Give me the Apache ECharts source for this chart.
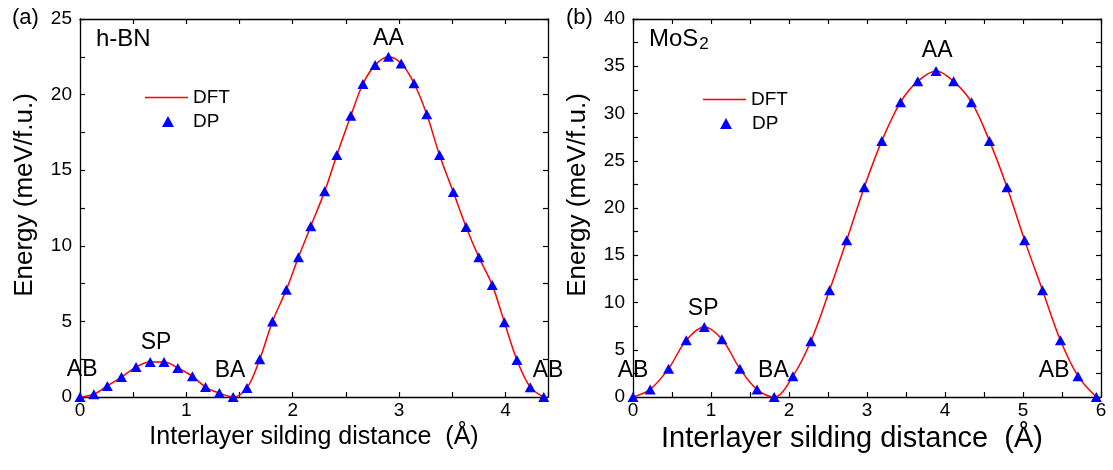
<!DOCTYPE html>
<html>
<head>
<meta charset="utf-8">
<script src="https://cdn.jsdelivr.net/npm/echarts@6/dist/echarts.min.js"></script>
<style>
html,body{margin:0;padding:0;background:#fff;}
#chart{width:1113px;height:470px;}
</style>
</head>
<body>
<div id="chart"></div>
<script>
// ---- Data ----
const hbnX = [0, 0.13, 0.257, 0.39, 0.527, 0.66, 0.79, 0.92, 1.057, 1.18, 1.31, 1.44, 1.57, 1.69, 1.81, 1.94, 2.054, 2.17, 2.30, 2.415, 2.546, 2.66, 2.775, 2.90, 3.02, 3.14, 3.26, 3.38, 3.51, 3.63, 3.75, 3.876, 3.99, 4.108, 4.233, 4.36];
const hbnY = [0, 0.18, 0.73, 1.32, 1.98, 2.31, 2.31, 1.92, 1.37, 0.66, 0.26, 0, 0.6, 2.5, 5.0, 7.1, 9.25, 11.3, 13.6, 16.0, 18.6, 20.7, 21.95, 22.5, 22.05, 20.75, 18.7, 16.0, 13.55, 11.25, 9.25, 7.4, 4.95, 2.45, 0.65, 0];

const mosX = [0, 0.22, 0.456, 0.683, 0.914, 1.14, 1.37, 1.59, 1.81, 2.05, 2.28, 2.52, 2.74, 2.965, 3.19, 3.43, 3.65, 3.885, 4.11, 4.34, 4.57, 4.795, 5.02, 5.25, 5.48, 5.705, 5.94];
const mosY = [0, 0.8, 3.0, 6.0, 7.4, 6.1, 3.0, 0.8, 0, 2.2, 5.9, 11.3, 16.6, 22.2, 27.1, 31.2, 33.4, 34.5, 33.4, 31.2, 27.1, 22.2, 16.6, 11.3, 6.0, 2.2, 0];

// stacking-configuration annotations (data coordinates)
const annoNamesA = ['AB', 'SP', 'BA', 'AA', 'AB'];
const annoXA = [0.02, 0.715, 1.41, 2.90, 4.40];
const annoYA = [1.8, 3.57, 1.72, 23.7, 1.72];
const annoNamesB = ['AB', 'SP', 'BA', 'AA', 'AB'];
const annoXB = [0.0, 0.90, 1.80, 3.90, 5.40];
const annoYB = [2.75, 9.4, 2.75, 36.6, 2.75];

const xTitle = 'Interlayer silding distance  (\u00C5)';
const yTitle = 'Energy (meV/f.u.)';
const legendNames = ['DFT', 'DP'];

// ---- Chart ----
const FONT = '"Liberation Sans", Arial, Helvetica, sans-serif';
const zip = (xs, ys) => xs.map((x, i) => [x, ys[i]]);
const anno = (names, xs, ys) => names.map((n, i) => ({ name: n, value: [xs[i], ys[i]] }));

const axisLine = { show: true, onZero: false, lineStyle: { color: '#000', width: 1.3 } };
const tick = { show: true, inside: true, length: 5, lineStyle: { color: '#000', width: 1.2 } };

function xAxes(gi, max, name, nameSize, namePad) {
  return [
    {
      gridIndex: gi, type: 'value', min: 0, max: max, interval: 0.5, position: 'bottom',
      name: name, nameLocation: 'middle', nameGap: 27,
      nameTextStyle: { fontSize: nameSize, color: '#000', fontFamily: FONT, padding: namePad },
      axisLine: axisLine, axisTick: tick, splitLine: { show: false },
      axisLabel: {
        fontSize: 19, color: '#000', margin: 4, fontFamily: FONT,
        formatter: v => (Math.abs(v - Math.round(v)) < 1e-6 ? String(Math.round(v)) : '')
      }
    },
    {
      gridIndex: gi, type: 'value', min: 0, max: max, interval: 0.5, position: 'top',
      axisLine: axisLine, axisTick: tick, splitLine: { show: false }, axisLabel: { show: false }
    }
  ];
}
function yAxes(gi, max) {
  return [
    {
      gridIndex: gi, type: 'value', min: 0, max: max, interval: 2.5, position: 'left',
      name: yTitle, nameLocation: 'middle', nameGap: 42, nameRotate: 90,
      nameTextStyle: { fontSize: 26, color: '#000', fontFamily: FONT, padding: [0, 0, 0, 26] },
      axisLine: axisLine, axisTick: tick, splitLine: { show: false },
      axisLabel: {
        fontSize: 19, color: '#000', margin: 8, fontFamily: FONT,
        formatter: v => (Math.abs(v / 5 - Math.round(v / 5)) < 1e-6 ? String(Math.round(v)) : '')
      }
    },
    {
      gridIndex: gi, type: 'value', min: 0, max: max, interval: 2.5, position: 'right',
      axisLine: axisLine, axisTick: tick, splitLine: { show: false }, axisLabel: { show: false }
    }
  ];
}

const lineStyleDFT = { color: '#ff0000', width: 1.5 };
const dpStyle = { color: '#0000ff', opacity: 1 };

function panelSeries(gi, xs, ys, annotations) {
  const xi = gi * 2, yi = gi * 2;
  return [
    {
      name: legendNames[0], type: 'line', xAxisIndex: xi, yAxisIndex: yi,
      data: zip(xs, ys), smooth: 0.35, symbol: 'none',
      lineStyle: lineStyleDFT, itemStyle: { color: '#ff0000' }, z: 3
    },
    {
      name: legendNames[1], type: 'scatter', xAxisIndex: xi, yAxisIndex: yi,
      data: zip(xs, ys), symbol: 'triangle', symbolSize: [11, 10],
      itemStyle: dpStyle, clip: false, z: 4
    },
    {
      name: 'labels', type: 'scatter', xAxisIndex: xi, yAxisIndex: yi,
      data: annotations, symbolSize: 0, clip: false, silent: true, z: 5,
      itemStyle: { opacity: 1, color: '#000' },
      label: {
        show: true, position: 'inside', formatter: p => p.name,
        fontSize: 23, color: '#000', opacity: 1, fontFamily: FONT
      }
    }
  ];
}

const legendText = { fontSize: 19, color: '#000', fontFamily: FONT };

const option = {
  animation: false,
  backgroundColor: '#fff',
  textStyle: { fontFamily: FONT },
  grid: [
    { left: 80, top: 19, width: 468, height: 378 },
    { left: 633, top: 19, width: 468, height: 378 }
  ],
  xAxis: [...xAxes(0, 4.4, xTitle, 25, [0, 0, 0, 0]), ...xAxes(1, 6, xTitle, 29, [0, 30, 0, 0])],
  yAxis: [...yAxes(0, 25), ...yAxes(1, 40)],
  legend: [
    { data: [{ name: legendNames[0], icon: 'rect' }], left: 145, top: 88, itemWidth: 43, itemHeight: 1.6, padding: 0, selectedMode: false, textStyle: legendText },
    { data: [{ name: legendNames[1], icon: 'triangle' }], left: 162, top: 112, itemWidth: 12, itemHeight: 11, padding: 0, selectedMode: false, itemStyle: { opacity: 1 }, textStyle: Object.assign({}, legendText, { padding: [0, 0, 0, 14] }) },
    { data: [{ name: legendNames[0], icon: 'rect' }], left: 703, top: 90, itemWidth: 43, itemHeight: 1.6, padding: 0, selectedMode: false, textStyle: legendText },
    { data: [{ name: legendNames[1], icon: 'triangle' }], left: 720, top: 114, itemWidth: 12, itemHeight: 11, padding: 0, selectedMode: false, itemStyle: { opacity: 1 }, textStyle: Object.assign({}, legendText, { padding: [0, 0, 0, 15] }) }
  ],
  graphic: [
    { type: 'text', left: 12, top: 7, style: { text: '(a)', fontSize: 22, fontFamily: FONT, fill: '#000' } },
    { type: 'text', left: 566, top: 7, style: { text: '(b)', fontSize: 22, fontFamily: FONT, fill: '#000' } },
    { type: 'text', left: 96, top: 27, style: { text: 'h-BN', fontSize: 24, fontFamily: FONT, fill: '#000' } },
    {
      type: 'text', left: 649, top: 27,
      style: {
        text: '{m|MoS}{s|2}', fill: '#000', fontFamily: FONT,
        rich: {
          m: { fontSize: 24, fontFamily: FONT, fill: '#000', color: '#000' },
          s: { fontSize: 17, fontFamily: FONT, fill: '#000', color: '#000', padding: [10, 0, 0, 1] }
        }
      }
    }
  ],
  series: [
    ...panelSeries(0, hbnX, hbnY, anno(annoNamesA, annoXA, annoYA)),
    ...panelSeries(1, mosX, mosY, anno(annoNamesB, annoXB, annoYB))
  ]
};

const chart = echarts.init(document.getElementById('chart'), null, { renderer: 'canvas' });
chart.setOption(option);
</script>
</body>
</html>
